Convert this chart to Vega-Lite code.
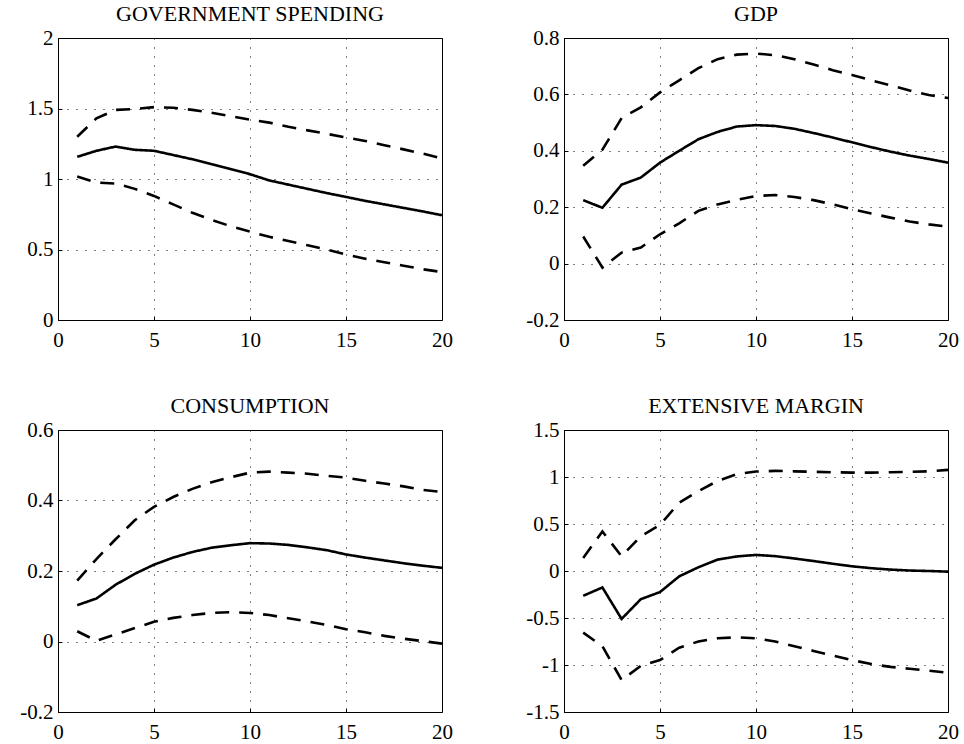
{
  "$schema": "https://vega.github.io/schema/vega-lite/v6.json",
  "background": "white",
  "padding": {"left": 19, "top": 2, "right": 5, "bottom": 0},
  "bounds": "flush",
  "columns": 2,
  "spacing": {"row": 110, "column": 122},
  "config": {
    "view": {"stroke": "black", "strokeWidth": 1},
    "axis": {
      "labelFont": "Liberation Serif", "labelFontSize": 21, "labelColor": "black",
      "domain": false, "ticks": true, "tickColor": "black", "tickSize": -4,
      "grid": true, "gridColor": "black", "gridDash": [1, 8], "gridWidth": 1, "gridOpacity": 1,
      "title": null, "labelFlush": false, "labelOverlap": false
    },
    "axisX": {"labelPadding": 13},
    "axisY": {"labelPadding": 9},
    "title": {"font": "Liberation Serif", "fontSize": 22, "fontWeight": "normal", "color": "black", "offset": 1, "anchor": "middle"},
    "line": {"color": "black", "strokeWidth": 2.6}
  },
  "data": {"values": [
    {"p":"g","h":1,"lo":1.018,"mid":1.157,"hi":1.30},
    {"p":"g","h":2,"lo":0.975,"mid":1.20,"hi":1.43},
    {"p":"g","h":3,"lo":0.968,"mid":1.23,"hi":1.49},
    {"p":"g","h":4,"lo":0.93,"mid":1.207,"hi":1.496},
    {"p":"g","h":5,"lo":0.88,"mid":1.20,"hi":1.51},
    {"p":"g","h":6,"lo":0.82,"mid":1.17,"hi":1.505},
    {"p":"g","h":7,"lo":0.76,"mid":1.14,"hi":1.49},
    {"p":"g","h":8,"lo":0.71,"mid":1.105,"hi":1.47},
    {"p":"g","h":9,"lo":0.665,"mid":1.07,"hi":1.445},
    {"p":"g","h":10,"lo":0.627,"mid":1.034,"hi":1.42},
    {"p":"g","h":11,"lo":0.59,"mid":0.99,"hi":1.40},
    {"p":"g","h":12,"lo":0.56,"mid":0.96,"hi":1.37},
    {"p":"g","h":13,"lo":0.53,"mid":0.93,"hi":1.345},
    {"p":"g","h":14,"lo":0.50,"mid":0.90,"hi":1.32},
    {"p":"g","h":15,"lo":0.465,"mid":0.873,"hi":1.295},
    {"p":"g","h":16,"lo":0.435,"mid":0.845,"hi":1.27},
    {"p":"g","h":17,"lo":0.41,"mid":0.82,"hi":1.24},
    {"p":"g","h":18,"lo":0.385,"mid":0.795,"hi":1.21},
    {"p":"g","h":19,"lo":0.36,"mid":0.77,"hi":1.18},
    {"p":"g","h":20,"lo":0.34,"mid":0.743,"hi":1.145},
    {"p":"y","h":1,"lo":0.096,"mid":0.225,"hi":0.347},
    {"p":"y","h":2,"lo":-0.014,"mid":0.198,"hi":0.404},
    {"p":"y","h":3,"lo":0.039,"mid":0.28,"hi":0.516},
    {"p":"y","h":4,"lo":0.057,"mid":0.305,"hi":0.554},
    {"p":"y","h":5,"lo":0.104,"mid":0.358,"hi":0.607},
    {"p":"y","h":6,"lo":0.143,"mid":0.40,"hi":0.65},
    {"p":"y","h":7,"lo":0.187,"mid":0.441,"hi":0.693},
    {"p":"y","h":8,"lo":0.21,"mid":0.467,"hi":0.725},
    {"p":"y","h":9,"lo":0.226,"mid":0.486,"hi":0.741},
    {"p":"y","h":10,"lo":0.24,"mid":0.491,"hi":0.745},
    {"p":"y","h":11,"lo":0.243,"mid":0.488,"hi":0.739},
    {"p":"y","h":12,"lo":0.236,"mid":0.478,"hi":0.725},
    {"p":"y","h":13,"lo":0.225,"mid":0.463,"hi":0.706},
    {"p":"y","h":14,"lo":0.21,"mid":0.447,"hi":0.686},
    {"p":"y","h":15,"lo":0.193,"mid":0.43,"hi":0.669},
    {"p":"y","h":16,"lo":0.178,"mid":0.413,"hi":0.65},
    {"p":"y","h":17,"lo":0.163,"mid":0.397,"hi":0.632},
    {"p":"y","h":18,"lo":0.149,"mid":0.383,"hi":0.614},
    {"p":"y","h":19,"lo":0.139,"mid":0.371,"hi":0.598},
    {"p":"y","h":20,"lo":0.131,"mid":0.358,"hi":0.587},
    {"p":"c","h":1,"lo":0.029,"mid":0.103,"hi":0.173},
    {"p":"c","h":2,"lo":0.002,"mid":0.122,"hi":0.234},
    {"p":"c","h":3,"lo":0.02,"mid":0.161,"hi":0.29},
    {"p":"c","h":4,"lo":0.038,"mid":0.192,"hi":0.344},
    {"p":"c","h":5,"lo":0.056,"mid":0.218,"hi":0.382},
    {"p":"c","h":6,"lo":0.067,"mid":0.238,"hi":0.41},
    {"p":"c","h":7,"lo":0.075,"mid":0.254,"hi":0.433},
    {"p":"c","h":8,"lo":0.081,"mid":0.266,"hi":0.452},
    {"p":"c","h":9,"lo":0.083,"mid":0.273,"hi":0.466},
    {"p":"c","h":10,"lo":0.081,"mid":0.279,"hi":0.479},
    {"p":"c","h":11,"lo":0.075,"mid":0.278,"hi":0.482},
    {"p":"c","h":12,"lo":0.066,"mid":0.274,"hi":0.479},
    {"p":"c","h":13,"lo":0.057,"mid":0.267,"hi":0.476},
    {"p":"c","h":14,"lo":0.047,"mid":0.259,"hi":0.47},
    {"p":"c","h":15,"lo":0.035,"mid":0.247,"hi":0.465},
    {"p":"c","h":16,"lo":0.026,"mid":0.238,"hi":0.456},
    {"p":"c","h":17,"lo":0.016,"mid":0.23,"hi":0.448},
    {"p":"c","h":18,"lo":0.008,"mid":0.222,"hi":0.44},
    {"p":"c","h":19,"lo":0.001,"mid":0.215,"hi":0.43},
    {"p":"c","h":20,"lo":-0.006,"mid":0.209,"hi":0.424},
    {"p":"e","h":1,"lo":-0.656,"mid":-0.264,"hi":0.139},
    {"p":"e","h":2,"lo":-0.80,"mid":-0.175,"hi":0.42},
    {"p":"e","h":3,"lo":-1.16,"mid":-0.51,"hi":0.157},
    {"p":"e","h":4,"lo":-1.01,"mid":-0.30,"hi":0.37},
    {"p":"e","h":5,"lo":-0.948,"mid":-0.224,"hi":0.49},
    {"p":"e","h":6,"lo":-0.816,"mid":-0.057,"hi":0.727},
    {"p":"e","h":7,"lo":-0.75,"mid":0.04,"hi":0.85},
    {"p":"e","h":8,"lo":-0.716,"mid":0.121,"hi":0.958},
    {"p":"e","h":9,"lo":-0.705,"mid":0.155,"hi":1.03},
    {"p":"e","h":10,"lo":-0.716,"mid":0.171,"hi":1.058},
    {"p":"e","h":11,"lo":-0.75,"mid":0.158,"hi":1.065},
    {"p":"e","h":12,"lo":-0.80,"mid":0.133,"hi":1.06},
    {"p":"e","h":13,"lo":-0.85,"mid":0.106,"hi":1.055},
    {"p":"e","h":14,"lo":-0.90,"mid":0.077,"hi":1.05},
    {"p":"e","h":15,"lo":-0.948,"mid":0.05,"hi":1.047},
    {"p":"e","h":16,"lo":-0.99,"mid":0.03,"hi":1.047},
    {"p":"e","h":17,"lo":-1.02,"mid":0.015,"hi":1.05},
    {"p":"e","h":18,"lo":-1.04,"mid":0.005,"hi":1.055},
    {"p":"e","h":19,"lo":-1.06,"mid":0.0,"hi":1.06},
    {"p":"e","h":20,"lo":-1.083,"mid":-0.007,"hi":1.076}
  ]},
  "concat": [
    {
      "width": 384, "height": 282,
      "title": "GOVERNMENT SPENDING",
      "transform": [{"filter": "datum.p === 'g'"}, {"fold": ["lo", "mid", "hi"], "as": ["series", "v"]}],
      "mark": {"type": "line"},
      "encoding": {
        "x": {"field": "h", "type": "quantitative", "scale": {"domain": [0, 20]}, "axis": {"values": [0, 5, 10, 15, 20]}},
        "y": {"field": "v", "type": "quantitative", "scale": {"domain": [0, 2]}, "axis": {"values": [0, 0.5, 1, 1.5, 2], "labelExpr": "'' + datum.value"}},
        "strokeDash": {"field": "series", "type": "nominal", "scale": {"domain": ["lo", "mid", "hi"], "range": [[14, 10], [1, 0], [14, 10]]}, "legend": null}
      }
    },
    {
      "width": 384, "height": 282,
      "title": "GDP",
      "transform": [{"filter": "datum.p === 'y'"}, {"fold": ["lo", "mid", "hi"], "as": ["series", "v"]}],
      "mark": {"type": "line"},
      "encoding": {
        "x": {"field": "h", "type": "quantitative", "scale": {"domain": [0, 20]}, "axis": {"values": [0, 5, 10, 15, 20]}},
        "y": {"field": "v", "type": "quantitative", "scale": {"domain": [-0.2, 0.8]}, "axis": {"values": [-0.2, 0, 0.2, 0.4, 0.6, 0.8], "labelExpr": "'' + datum.value"}},
        "strokeDash": {"field": "series", "type": "nominal", "scale": {"domain": ["lo", "mid", "hi"], "range": [[14, 10], [1, 0], [14, 10]]}, "legend": null}
      }
    },
    {
      "width": 384, "height": 282,
      "title": "CONSUMPTION",
      "transform": [{"filter": "datum.p === 'c'"}, {"fold": ["lo", "mid", "hi"], "as": ["series", "v"]}],
      "mark": {"type": "line"},
      "encoding": {
        "x": {"field": "h", "type": "quantitative", "scale": {"domain": [0, 20]}, "axis": {"values": [0, 5, 10, 15, 20]}},
        "y": {"field": "v", "type": "quantitative", "scale": {"domain": [-0.2, 0.6]}, "axis": {"values": [-0.2, 0, 0.2, 0.4, 0.6], "labelExpr": "'' + datum.value"}},
        "strokeDash": {"field": "series", "type": "nominal", "scale": {"domain": ["lo", "mid", "hi"], "range": [[14, 10], [1, 0], [14, 10]]}, "legend": null}
      }
    },
    {
      "width": 384, "height": 282,
      "title": "EXTENSIVE MARGIN",
      "transform": [{"filter": "datum.p === 'e'"}, {"fold": ["lo", "mid", "hi"], "as": ["series", "v"]}],
      "mark": {"type": "line"},
      "encoding": {
        "x": {"field": "h", "type": "quantitative", "scale": {"domain": [0, 20]}, "axis": {"values": [0, 5, 10, 15, 20]}},
        "y": {"field": "v", "type": "quantitative", "scale": {"domain": [-1.5, 1.5]}, "axis": {"values": [-1.5, -1, -0.5, 0, 0.5, 1, 1.5], "labelExpr": "'' + datum.value"}},
        "strokeDash": {"field": "series", "type": "nominal", "scale": {"domain": ["lo", "mid", "hi"], "range": [[14, 10], [1, 0], [14, 10]]}, "legend": null}
      }
    }
  ]
}
